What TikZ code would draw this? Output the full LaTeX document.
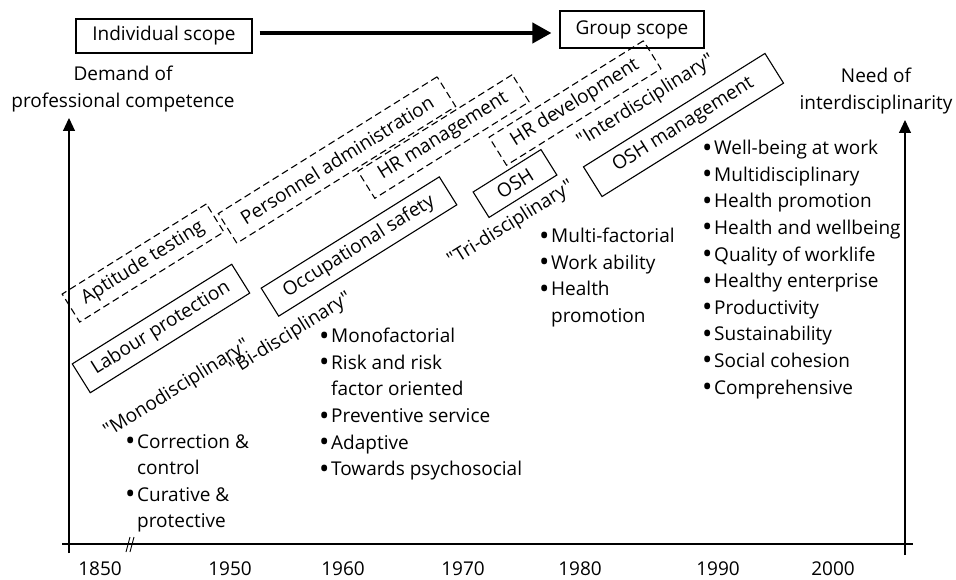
\documentclass[tikz,border=0pt]{standalone}
\usepackage{fontspec}
\setmainfont{Open Sans}[Ligatures=TeXOff]
\usetikzlibrary{positioning, arrows.meta}
\tikzstyle{erabox} = [draw, line width=1.1pt, minimum height=33pt, rotate=32, inner sep=0pt]
\newcommand{\bpt}{\makebox[12pt][l]{\raisebox{-0.13em}{\scalebox{1.45}{\textbullet}}}}
\newcommand{\bcont}{\hspace*{12pt}}

\begin{document}
\begin{tikzpicture}[
    x=1pt, y=-1pt,
    every node/.style={font=\fontsize{19}{26.6}\selectfont, inner sep=0pt},
    dbox/.style={erabox, dash pattern=on 7pt off 4pt},
    disc/.style={rotate=32},
    scopebox/.style={draw, line width=1.1pt},
    list/.style={align=left, anchor=north west},
    axis/.style={line width=1.1pt},
    axisarrow/.style={axis, -{Triangle[length=13pt, width=12pt]}}
]
    \useasboundingbox (0,0) rectangle (956,580);

    \node[scopebox, minimum width=176pt, minimum height=34pt] (ind) at (164,36) {Individual scope};
    \node[scopebox, minimum width=144pt, minimum height=37pt] (grp) at (632,29.5) {Group scope};
    \draw[line width=4pt, -{Triangle[length=19pt, width=20pt]}, shorten <=7pt, shorten >=8pt]
        ([yshift=3pt]ind.east) -- ([yshift=-3.5pt]grp.west);

    \node[align=center, anchor=north] (dem) at (123,66) {Demand of\\professional competence};
    \node[align=center, anchor=north] (need) at (876,68) {Need of\\interdisciplinarity};

    \coordinate (lbot) at (69,553);
    \coordinate (ltop) at (69,118);
    \coordinate (rbot) at (905,555);
    \coordinate (rtop) at (905,120);
    \coordinate (xleft) at (62,544);
    \coordinate (xright) at (913,544);
    \draw[axisarrow] (lbot) -- (ltop);
    \draw[axisarrow] (rbot) -- (rtop);
    \draw[axis] (xleft) -- (xright);
    \draw[line width=0.9pt] (126,552) -- (130,537) (130,552) -- (134,537);

    \foreach \yr/\xx in {1850/100, 1950/230, 1960/343, 1970/463, 1980/580, 1990/718, 2000/833}
        \node[anchor=base] (y\yr) at (\xx,575) {\yr};

    \node[dbox, minimum width=170pt] (apt) at (143,263) {Aptitude testing};
    \node[dbox, minimum width=258pt, minimum height=35pt] (pers) at (337,160) {Personnel administration};
    \node[dbox, minimum width=182pt, minimum height=32pt] (hrm) at (443.5,136.5) {HR management};
    \node[dbox, minimum width=182pt] (hrd) at (575,103) {HR development};

    \node[erabox, minimum width=188pt, minimum height=34pt] (lab) at (161,328.5) {Labour protection};
    \node[erabox, minimum width=210pt] (occ) at (359,246.5) {Occupational safety};
    \node[erabox, minimum width=80pt, minimum height=30pt] (osh) at (515,183.5) {OSH};
    \node[erabox, minimum width=214pt, minimum height=35pt] (oshm) at (683.5,125) {OSH management};

    \node[disc] (mono) at (177,389) {"Monodisciplinary"};
    \node[disc] (bi) at (291,334) {"Bi-disciplinary"};
    \node[disc] (tri) at (511,224) {"Tri-disciplinary"};
    \node[disc] (inter) at (646,101) {"Interdisciplinary"};

    \node[list] (lcorr) at (125,434) {\bpt Correction \&\\ \bcont control\\ \bpt Curative \&\\ \bcont protective};
    \node[list] (lmono) at (319,328) {\bpt Monofactorial\\ \bpt Risk and risk\\ \bcont factor oriented\\
        \bpt Preventive service\\ \bpt Adaptive\\ \bpt Towards psychosocial};
    \node[list] (ltri) at (539,228) {\bpt Multi-factorial\\ \bpt Work ability\\ \bpt Health\\ \bcont promotion};
    \node[list] (lwell) at (702,140) {\bpt Well-being at work\\ \bpt Multidisciplinary\\ \bpt Health promotion\\
        \bpt Health and wellbeing\\ \bpt Quality of worklife\\ \bpt Healthy enterprise\\ \bpt Productivity\\
        \bpt Sustainability\\ \bpt Social cohesion\\ \bpt Comprehensive};
\end{tikzpicture}
\end{document}
